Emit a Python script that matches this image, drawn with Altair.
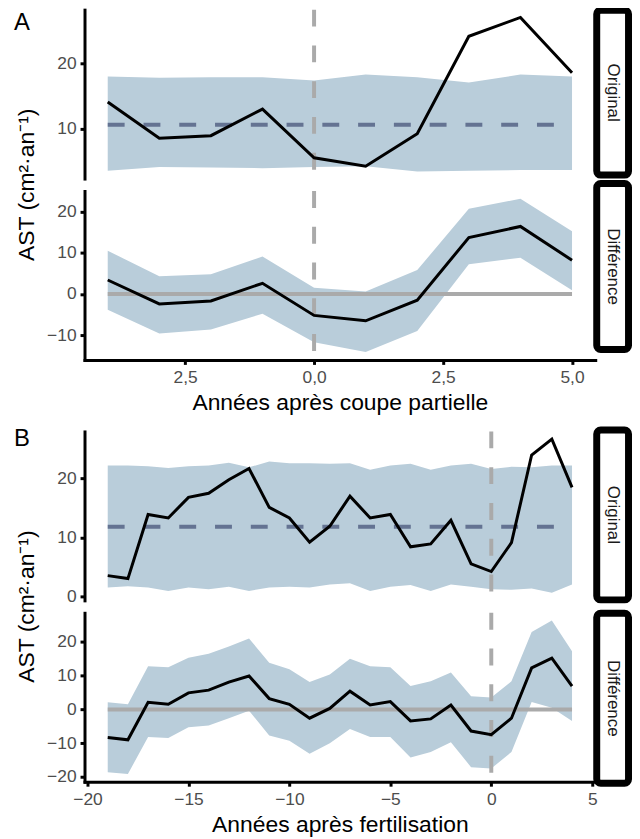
import altair as alt
import pandas as pd

# ---------------- data ----------------
A_years = [-4, -3, -2, -1, 0, 1, 2, 3, 4, 5]
A_orig = [14.1, 8.5, 8.9, 13.0, 5.5, 4.2, 9.2, 24.2, 27.1, 18.6]
A_orig_lo = [3.5, 4.1, 4.0, 3.9, 4.1, 4.2, 3.4, 3.5, 3.6, 3.6]
A_orig_hi = [18.0, 17.8, 17.9, 17.9, 17.4, 18.3, 17.9, 17.1, 18.3, 18.0]
A_orig_mean = 10.6
A_diff = [3.4, -2.4, -1.7, 2.6, -5.2, -6.5, -1.5, 13.7, 16.4, 8.2]
A_diff_lo = [-3.8, -9.6, -8.6, -4.8, -11.7, -14.1, -9.0, 7.2, 8.8, 0.9]
A_diff_hi = [10.5, 4.3, 4.8, 9.1, 1.5, 0.6, 5.8, 20.7, 23.1, 15.2]

B_years = list(range(-19, 5))
B_orig = [3.5, 3.0, 13.9, 13.3, 16.8, 17.5, 19.8, 21.7, 15.1, 13.3, 9.2, 11.9,
          17.0, 13.3, 13.9, 8.4, 8.9, 12.9, 5.5, 4.2, 9.1, 24.0, 26.7, 18.5]
B_orig_hi = [22.2, 22.2, 22.1, 21.8, 22.1, 22.2, 22.7, 21.9, 22.9, 22.6, 22.6, 22.5,
             22.6, 21.5, 22.2, 22.5, 21.5, 22.2, 22.5, 21.6, 22.0, 21.9, 22.2, 22.2]
B_orig_lo = [1.5, 1.7, 1.5, 0.9, 1.5, 1.2, 1.6, 0.9, 1.5, 1.6, 1.5, 2.0,
             2.2, 0.9, 1.6, 1.9, 0.9, 2.0, 1.6, 1.2, 1.1, 1.3, 0.6, 2.0]
B_orig_mean = 11.8
B_diff = [-8.3, -9.0, 2.1, 1.5, 4.9, 5.7, 8.1, 9.9, 3.2, 1.5, -2.6, 0.3,
          5.4, 1.3, 2.3, -3.4, -2.8, 1.3, -6.4, -7.5, -2.6, 12.3, 15.2, 6.9]
B_diff_hi = [2.1, 1.5, 12.8, 12.5, 15.3, 16.5, 18.6, 21.0, 13.8, 11.9, 8.1, 10.3,
             15.0, 12.8, 12.5, 6.9, 8.3, 10.9, 3.9, 3.5, 8.3, 22.9, 26.3, 17.2]
B_diff_lo = [-18.6, -19.1, -8.2, -8.5, -5.3, -4.8, -2.6, -0.4, -7.7, -9.3, -13.1, -10.0,
             -5.8, -8.2, -8.2, -14.2, -12.6, -9.7, -17.1, -17.5, -12.6, 2.2, 0.5, -3.4]

A_xticks = [-2.5, 0, 2.5, 5]
B_xticks = [-20, -15, -10, -5, 0, 5]
A_orig_yticks = [10, 20]
A_diff_yticks = [-10, 0, 10, 20]
B_orig_yticks = [0, 10, 20]
B_diff_yticks = [-20, -10, 0, 10, 20]

A_xtitle = "Années après coupe partielle"
B_xtitle = "Années après fertilisation"
Y_TITLE = "AST (cm²·an⁻¹)"

# ---------------- style ----------------
FONT = "Liberation Sans"
RIB = "#b9cdda"
MEAN_C = "#647392"
GREY = "#aaaaaa"
W = 514
H = 170
GAP = 12.5
LABEL_SIZE = 17.5
TITLE_SIZE = 23


def facet(years, val, lo, hi, ref, ref_dash, xdom, ydom, yticks,
          strip_label, strip_y, xticks=None, xtitle=None, x_label_expr=None,
          panel_letter=None, letter_y=0, ytitle_y=None):
    df = pd.DataFrame({"year": years, "val": val, "lo": lo, "hi": hi})
    xs = alt.Scale(domain=xdom, nice=False, zero=False)
    ys = alt.Scale(domain=ydom, nice=False, zero=False)
    if xticks is not None:
        if x_label_expr:
            xaxis = alt.Axis(values=xticks, title=xtitle, labelExpr=x_label_expr)
        else:
            xaxis = alt.Axis(values=xticks, title=xtitle, format="d")
    else:
        xaxis = None
    yaxis = alt.Axis(values=yticks, title=None, format="d")
    ribbon = alt.Chart(df).mark_area(color=RIB, opacity=1).encode(
        x=alt.X("year:Q", scale=xs, axis=xaxis),
        y=alt.Y("lo:Q", scale=ys, axis=yaxis),
        y2="hi:Q",
    )
    refdf = pd.DataFrame({"x0": [years[0]], "x1": [years[-1]], "v": [ref]})
    if ref_dash:
        refline = alt.Chart(refdf).mark_rule(color=MEAN_C, strokeWidth=4, strokeDash=[17, 19]).encode(
            x=alt.X("x0:Q", scale=xs), x2="x1:Q", y=alt.Y("v:Q", scale=ys))
    else:
        refline = alt.Chart(refdf).mark_rule(color=GREY, strokeWidth=4).encode(
            x=alt.X("x0:Q", scale=xs), x2="x1:Q", y=alt.Y("v:Q", scale=ys))
    vline = alt.Chart(pd.DataFrame({"v": [0]})).mark_rule(
        color=GREY, strokeWidth=4, strokeDash=[17, 19]).encode(x=alt.X("v:Q", scale=xs))
    line = alt.Chart(df).mark_line(color="black", strokeWidth=3).encode(
        x=alt.X("year:Q", scale=xs), y=alt.Y("val:Q", scale=ys))
    one = pd.DataFrame({"t": [strip_label]})
    y0, y1 = strip_y
    strip = alt.Chart(one).mark_rect(fill="white", stroke="black", strokeWidth=7, cornerRadius=4).encode(
        x=alt.value(W + 1.5), x2=alt.value(W + 33.5), y=alt.value(y0), y2=alt.value(y1))
    strip_txt = alt.Chart(one).mark_text(angle=90, font=FONT, fontSize=17, color="#1a1a1a",
                                         baseline="middle", align="center").encode(
        x=alt.value(W + 17.5), y=alt.value((y0 + y1) / 2), text="t:N")
    layers = [ribbon, refline, vline, line, strip, strip_txt]
    if panel_letter:
        layers.append(alt.Chart(pd.DataFrame({"t": [panel_letter]})).mark_text(
            font=FONT, fontSize=24, color="black", baseline="middle", align="center").encode(
            x=alt.value(-63), y=alt.value(letter_y), text="t:N"))
    if ytitle_y is not None:
        layers.append(alt.Chart(pd.DataFrame({"t": [Y_TITLE]})).mark_text(
            font=FONT, fontSize=TITLE_SIZE, color="black", baseline="middle", align="center",
            angle=270).encode(x=alt.value(-58), y=alt.value(ytitle_y), text="t:N"))
    return alt.layer(*layers).properties(width=W, height=H)


A_lab = "replace(format(abs(datum.value), '.1f'), '.', ',')"

A1 = facet(A_years, A_orig, A_orig_lo, A_orig_hi, A_orig_mean, True,
           [-4.45, 5.45], [2.3, 28.3], A_orig_yticks, "Original", (0.5, 166.5),
           panel_letter="A", letter_y=13, ytitle_y=H + GAP / 2)
A2 = facet(A_years, A_diff, A_diff_lo, A_diff_hi, 0, False,
           [-4.45, 5.45], [-16, 25], A_diff_yticks, "Différence", (-7.5, 159.5),
           xticks=A_xticks, xtitle=A_xtitle, x_label_expr=A_lab)
B1 = facet(B_years, B_orig, B_orig_lo, B_orig_hi, B_orig_mean, True,
           [-20.15, 5.15], [-0.7, 28.0], B_orig_yticks, "Original", (-1.5, 169.5),
           panel_letter="B", letter_y=8, ytitle_y=H + GAP / 2)
B2 = facet(B_years, B_diff, B_diff_lo, B_diff_hi, 0, False,
           [-20.15, 5.15], [-21.4, 28.6], B_diff_yticks, "Différence", (0.5, 171.5),
           xticks=B_xticks, xtitle=B_xtitle)

spacer = alt.Chart(pd.DataFrame({"a": [0]})).mark_point(opacity=0).encode(
    x=alt.value(0), y=alt.value(0)).properties(width=W, height=46.5)

chart = alt.vconcat(A1, A2, spacer, B1, B2, spacing=GAP, bounds="flush").properties(
    padding={"left": 5, "top": -4, "right": 0, "bottom": 0}
).configure_view(stroke=None).configure_axis(
    grid=False, domainColor="black", domainWidth=3, tickColor="black", tickWidth=3,
    tickSize=4.5, labelColor="#4d4d4d", labelFont=FONT, labelFontSize=LABEL_SIZE,
    labelPadding=4, titleFont=FONT, titleFontSize=TITLE_SIZE, titleFontWeight="normal",
    titleColor="black", titlePadding=6, domainCap="square"
)

chart.save("out.html", embed_options={"renderer": "svg", "actions": False})
